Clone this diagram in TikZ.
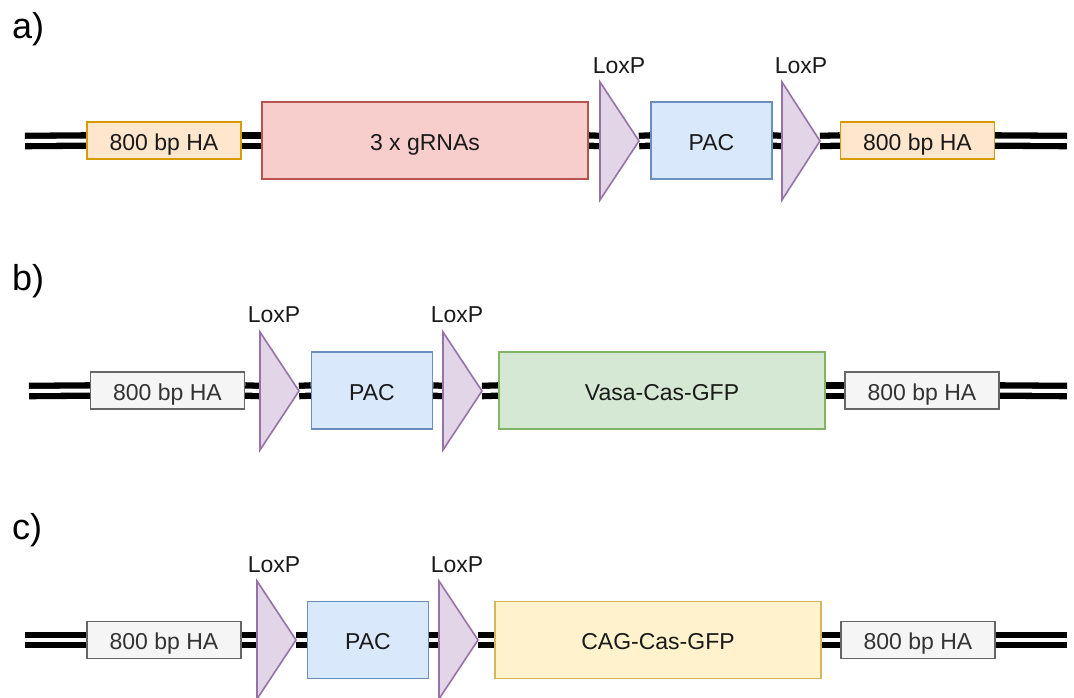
\documentclass[tikz,border=0pt]{standalone}
\usepackage{fontspec}
\setmainfont{Liberation Sans}
\usetikzlibrary{backgrounds}

\definecolor{haOrangeFill}{HTML}{FFE6CC}
\definecolor{haOrangeLine}{HTML}{D79B00}
\definecolor{haGreyFill}{HTML}{F5F5F5}
\definecolor{haGreyLine}{HTML}{666666}
\definecolor{haGreyText}{HTML}{333333}
\definecolor{grnaFill}{HTML}{F8CECC}
\definecolor{grnaLine}{HTML}{B85450}
\definecolor{loxFill}{HTML}{E1D5E7}
\definecolor{loxLine}{HTML}{9673A6}
\definecolor{pacFill}{HTML}{DAE8FC}
\definecolor{pacLine}{HTML}{6C8EBF}
\definecolor{vasaFill}{HTML}{D5E8D4}
\definecolor{vasaLine}{HTML}{82B366}
\definecolor{cagFill}{HTML}{FFF2CC}
\definecolor{cagLine}{HTML}{D6B656}
\definecolor{txt}{HTML}{1A1A1A}

\tikzset{
  lbl/.style={font=\fontsize{23}{27}\selectfont, text=txt},
  part/.style={draw, line width=1.2pt, inner sep=0pt, lbl, text height=19.5pt, text depth=0pt},
  hashort/.style={part, minimum width=154pt, minimum height=37pt},
  haorange/.style={hashort, fill=haOrangeFill, draw=haOrangeLine},
  hagrey/.style={hashort, fill=haGreyFill, draw=haGreyLine, text=haGreyText},
  pacbox/.style={part, fill=pacFill, draw=pacLine, minimum width=121pt, minimum height=77pt},
  bigbox/.style={part, minimum width=326pt, minimum height=77pt},
  loxtri/.style={fill=loxFill, draw=loxLine, line width=1.6pt, line join=miter},
  loxname/.style={lbl, anchor=base, inner sep=0pt},
  panel/.style={font=\fontsize{36}{40}\selectfont, text=black, anchor=base west, inner sep=0pt},
  % double strand: black band with a white core
  dna/.style={draw=black, line width=16.6pt, line cap=butt,
              postaction={draw=white, line width=4pt, line cap=butt}}
}

% a LoxP site: triangle with left edge at #2, apex at #3, centred on row #4, named #1
\newcommand{\loxsite}[4]{%
  \coordinate (#1w) at (#2,#4);
  \coordinate (#1t) at (#3,#4);
  \path[loxtri] (#2,#4-59) -- (#3,#4) -- (#2,#4+59) -- cycle;
}

\begin{document}
\begin{tikzpicture}[x=1pt,y=-1pt]
\useasboundingbox (0,0) rectangle (1074,697);

% ---------- a) ----------
\node[panel] (pa) at (12,38) {a)};
\coordinate (a0) at (25,141);
\coordinate (a9) at (1067,141);
\node[haorange] (aH1) at (164,140.5) {800 bp HA};
\node[bigbox, fill=grnaFill, draw=grnaLine] (aG) at (425,140.5) {3 x gRNAs};
\loxsite{aL1}{600}{639}{141}
\node[loxname] (aX1) at (619,73) {LoxP};
\node[pacbox] (aP) at (711.5,140.5) {PAC};
\loxsite{aL2}{782}{820}{141}
\node[loxname] (aX2) at (801,73) {LoxP};
\node[haorange] (aH2) at (917.5,140.5) {800 bp HA};
\begin{scope}[on background layer]
  \draw[dna] (a0) -- (aH1.west);
  \draw[dna] (aH1.east) -- (aG.west);
  \draw[dna] (aG.east) -- (aL1w);
  \draw[dna] (aL1t) -- (aP.west);
  \draw[dna] (aP.east) -- (aL2w);
  \draw[dna] (aL2t) -- (aH2.west);
  \draw[dna] (aH2.east) -- (a9);
\end{scope}

% ---------- b) ----------
\node[panel] (pb) at (12,290) {b)};
\coordinate (b0) at (29,391);
\coordinate (b9) at (1067,391);
\node[hagrey] (bH1) at (167.5,390.5) {800 bp HA};
\loxsite{bL1}{260}{299}{391}
\node[loxname] (bX1) at (274,322) {LoxP};
\node[pacbox] (bP) at (372,390.5) {PAC};
\loxsite{bL2}{443}{482}{391}
\node[loxname] (bX2) at (457,322) {LoxP};
\node[bigbox, fill=vasaFill, draw=vasaLine] (bV) at (662,390.5) {Vasa-Cas-GFP};
\node[hagrey] (bH2) at (922,390.5) {800 bp HA};
\begin{scope}[on background layer]
  \draw[dna] (b0) -- (bH1.west);
  \draw[dna] (bH1.east) -- (bL1w);
  \draw[dna] (bL1t) -- (bP.west);
  \draw[dna] (bP.east) -- (bL2w);
  \draw[dna] (bL2t) -- (bV.west);
  \draw[dna] (bV.east) -- (bH2.west);
  \draw[dna] (bH2.east) -- (b9);
\end{scope}

% ---------- c) ----------
\node[panel] (pc) at (12,539) {c)};
\coordinate (c0) at (25,640);
\coordinate (c9) at (1067,640);
\node[hagrey] (cH1) at (164,640) {800 bp HA};
\loxsite{cL1}{257}{296}{640}
\node[loxname] (cX1) at (274,572) {LoxP};
\node[pacbox] (cP) at (368,640) {PAC};
\loxsite{cL2}{439}{478}{640}
\node[loxname] (cX2) at (457,572) {LoxP};
\node[bigbox, fill=cagFill, draw=cagLine] (cC) at (658,640) {CAG-Cas-GFP};
\node[hagrey] (cH2) at (918,640) {800 bp HA};
\begin{scope}[on background layer]
  \draw[dna] (c0) -- (cH1.west);
  \draw[dna] (cH1.east) -- (cL1w);
  \draw[dna] (cL1t) -- (cP.west);
  \draw[dna] (cP.east) -- (cL2w);
  \draw[dna] (cL2t) -- (cC.west);
  \draw[dna] (cC.east) -- (cH2.west);
  \draw[dna] (cH2.east) -- (c9);
\end{scope}
\end{tikzpicture}
\end{document}
